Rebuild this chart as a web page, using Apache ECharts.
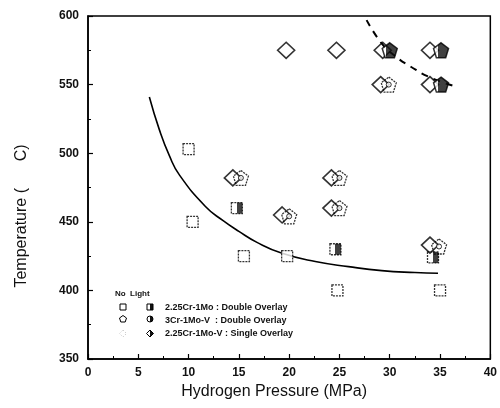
<!DOCTYPE html>
<html><head><meta charset="utf-8">
<script src="https://cdn.jsdelivr.net/npm/echarts@6/dist/echarts.min.js"></script>
<style>html,body{margin:0;padding:0;background:#fff}#c{width:500px;height:408px}</style>
</head><body><div id="c"></div>
<script>
// ---- data ----
const xTicks = [0,5,10,15,20,25,30,35,40];
const yTicks = [350,400,450,500,550,600];
const sqNoLight = [[10,503],[10.4,450],[15.5,425],[19.8,425],[24.8,400],[35,400]];
const sqLight = [[14.8,460],[24.6,430],[34.3,424]];
const diaNoLight = [[14.4,482],[19.3,455],[24.2,482],[24.2,460],[34.0,433],
  [19.7,575],[24.7,575],[29.3,575],[34.0,575],[29.1,550],[34.0,550]];
const pentNoLight = [[15.2,482],[20.0,454],[25.0,482],[25.0,460],[34.9,432],[29.9,550]];
const pentLight = [[30.0,575],[35.1,575],[35.1,550]];
const solidCurve = [[6.1,541],[7.1,517],[8.1,498],[9.1,484],[11.7,461],[13.4,451],
  [15,443],[16.8,435],[19.3,427],[22.6,421],[25.9,417.3],[29.2,414.4],[32.5,413],[34.8,412.5]];
const dashedCurve = [[27.7,597],[29.2,580],[30.5,571],[32.1,563],[34.1,555],[36.6,548.5]];

const pentPath = 'path://M0,-10 L9.5,-3.1 L5.9,8.1 L-5.9,8.1 L-9.5,-3.1 Z';
const halfFill = (from) => ({type:'linear',x:0,y:0,x2:1,y2:0,colorStops:[
  {offset:0,color:'#fff'},{offset:from,color:'#fff'},{offset:from,color:'#111'},{offset:1,color:'#111'}]});
const F = 'Liberation Sans, Arial, sans-serif';

const chart = echarts.init(document.getElementById('c'));
chart.setOption({
  animation:false,
  backgroundColor:'#fff',
  grid:{left:88,right:8,top:16,bottom:49,show:true,borderColor:'#000',borderWidth:1.5},
  xAxis:{type:'value',min:0,max:40,interval:5,
    name:'Hydrogen Pressure (MPa)',nameLocation:'middle',nameGap:22,
    nameTextStyle:{fontFamily:F,fontSize:16,color:'#111',padding:[0,30,0,0]},
    axisLine:{lineStyle:{color:'#000',width:1.5}},
    axisTick:{inside:true,length:5,lineStyle:{color:'#000',width:1.2}},
    minorTick:{show:true,splitNumber:2,length:3,lineStyle:{color:'#000'}},
    splitLine:{show:false},
    axisLabel:{fontFamily:F,fontSize:12,fontWeight:'bold',color:'#111',margin:8,
      formatter:v=>xTicks.includes(v)?String(v):''}},
  yAxis:{type:'value',min:350,max:600,interval:50,
    name:'Temperature (      C)',nameLocation:'middle',nameGap:58,
    nameTextStyle:{fontFamily:F,fontSize:16,color:'#111',padding:[0,57,0,0]},
    axisLine:{lineStyle:{color:'#000',width:1.5}},
    axisTick:{inside:true,length:5,lineStyle:{color:'#000',width:1.2}},
    minorTick:{show:true,splitNumber:2,length:3,lineStyle:{color:'#000'}},
    splitLine:{show:false},
    axisLabel:{fontFamily:F,fontSize:12,fontWeight:'bold',color:'#111',margin:9,
      formatter:v=>yTicks.includes(v)?String(v):''}},
  series:[
    {type:'line',data:solidCurve,smooth:0.5,symbol:'none',lineStyle:{color:'#000',width:1.6},z:2},
    {type:'line',data:dashedCurve,smooth:true,symbol:'none',lineStyle:{color:'#000',width:2,type:[7,6]},z:2},
    {type:'scatter',data:sqNoLight,symbol:'rect',symbolSize:11,
      itemStyle:{color:'#fff',borderColor:'#000',borderWidth:1.3,borderType:[2,1]},z:3},
    {type:'scatter',data:sqLight,symbol:'rect',symbolSize:11,
      itemStyle:{color:halfFill(0.5),borderColor:'#000',borderWidth:1.3,borderType:[2,1]},z:3},
    {type:'scatter',data:diaNoLight,symbol:'diamond',symbolSize:[17,16],
      itemStyle:{color:'rgba(255,255,255,0)',borderColor:'#000',borderWidth:1.6},z:4},
    {type:'scatter',data:pentNoLight,symbol:pentPath,symbolSize:15,
      itemStyle:{color:'rgba(255,255,255,0)',borderColor:'#000',borderWidth:1.3,borderType:[2,1]},z:5},
    {type:'scatter',data:pentNoLight,symbol:'circle',symbolSize:5,
      itemStyle:{color:'#fff',borderColor:'#000',borderWidth:1},z:6},
    {type:'scatter',data:pentLight,symbol:pentPath,symbolSize:15,
      itemStyle:{color:halfFill(0.3),borderColor:'#000',borderWidth:1.5},z:6}
  ],
  graphic:[
    {type:'text',left:115,top:290,style:{text:'No  Light',font:'bold 8px '+F,fill:'#111'}},
    {type:'rect',shape:{x:120,y:304,width:6,height:6},style:{fill:'#fff',stroke:'#000',lineWidth:1}},
    {type:'rect',shape:{x:147,y:304,width:6,height:6},style:{fill:halfFill(0.5),stroke:'#000',lineWidth:1}},
    {type:'text',left:165,top:303,style:{text:'2.25Cr-1Mo : Double Overlay',font:'bold 9px '+F,fill:'#111'}},
    {type:'polygon',shape:{points:[[123,315.5],[126.5,318],[125.2,322],[120.8,322],[119.5,318]]},style:{fill:'#fff',stroke:'#000',lineWidth:1}},
    {type:'circle',shape:{cx:150,cy:319,r:3},style:{fill:halfFill(0.5),stroke:'#000',lineWidth:1}},
    {type:'text',left:165,top:316,style:{text:'3Cr-1Mo-V  : Double Overlay',font:'bold 9px '+F,fill:'#111'}},
    {type:'polygon',shape:{points:[[123,330],[126.5,333.5],[123,337],[119.5,333.5]]},style:{fill:'#fff',stroke:'#bbb',lineWidth:1,lineDash:[1,2]}},
    {type:'polygon',shape:{points:[[150,330],[153.5,333.5],[150,337],[146.5,333.5]]},style:{fill:halfFill(0.5),stroke:'#000',lineWidth:1}},
    {type:'text',left:165,top:329,style:{text:'2.25Cr-1Mo-V : Single Overlay',font:'bold 9px '+F,fill:'#111'}}
  ]
});
</script></body></html>
